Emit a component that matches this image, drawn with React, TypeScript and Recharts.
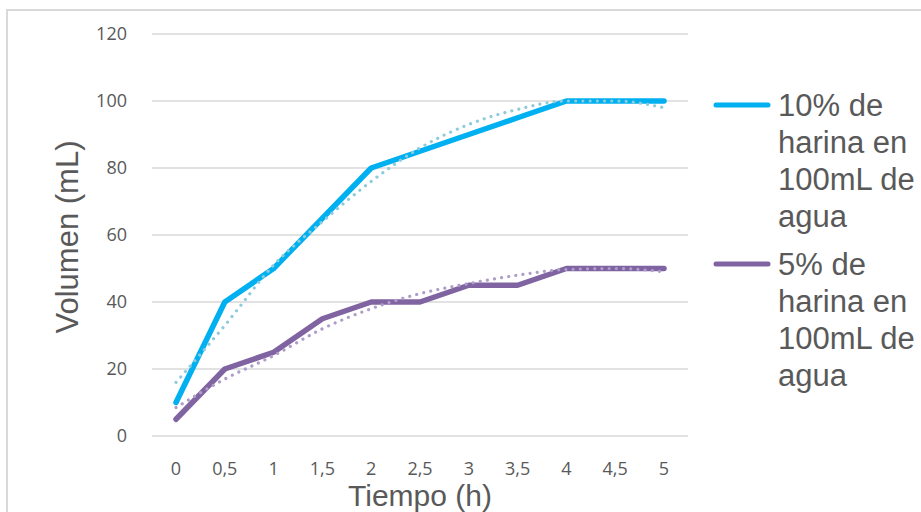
import React from 'react';
import { LineChart, Line, XAxis, YAxis, CartesianGrid, Legend } from 'recharts';

// time labels (h)
const tiempos = ['0', '0,5', '1', '1,5', '2', '2,5', '3', '3,5', '4', '4,5', '5'];
// measured volumes (mL)
const harina10 = [10, 40, 50, 65, 80, 85, 90, 95, 100, 100, 100];
const harina5 = [5, 20, 25, 35, 40, 40, 45, 45, 50, 50, 50];
// dotted trend lines
const tendencia10 = [16, 33, 51, 64, 76, 86, 93, 97.5, 100, 100, 98];
const tendencia5 = [8.5, 17, 24, 32, 38, 42.5, 45.5, 48, 49.7, 50, 49];
const yTicks = [0, 20, 40, 60, 80, 100, 120];

const data = tiempos.map((t, i) => ({
  t,
  a: harina10[i],
  b: harina5[i],
  ta: tendencia10[i],
  tb: tendencia5[i],
}));

const GREY = '#595959';

const LegendBox = (props: any) => {
  const items = (props.payload || []).filter((p: any) => p.type !== 'none');
  return (
    <div>
      {items.map((p: any, i: number) => (
        <div key={i} style={{ display: 'flex', alignItems: 'flex-start', marginTop: i === 0 ? 0 : 10.5 }}>
          <svg width={62} height={30} style={{ flexShrink: 0 }}>
            <line x1={3} y1={18} x2={55} y2={18} stroke={p.color} strokeWidth={5} strokeLinecap="round" />
          </svg>
          <div
            style={{
              width: 143,
              marginLeft: 3,
              fontFamily: '"Liberation Sans", Arial, sans-serif',
              fontSize: 31,
              lineHeight: '37px',
              color: GREY,
              textAlign: 'left',
            }}
          >
            {p.value}
          </div>
        </div>
      ))}
    </div>
  );
};

export default function App() {
  return (
    <div style={{ position: 'fixed', left: 0, top: 0, width: 921, height: 512, overflow: 'hidden', background: '#fff' }}>
      <div
        style={{
          position: 'absolute',
          left: 6,
          top: 9,
          width: 940,
          height: 540,
          borderLeft: '2px solid #d9d9d9',
          borderTop: '2px solid #d9d9d9',
        }}
      />
      <div style={{ position: 'absolute', left: 0, top: 0 }}>
        <LineChart width={921} height={512} data={data} margin={{ top: 34, right: 233, bottom: 0, left: 0 }}>
          <CartesianGrid horizontal vertical={false} stroke="#d9d9d9" strokeWidth={1.5} />
          <XAxis
            dataKey="t"
            height={76}
            axisLine={false}
            tickLine={false}
            tickSize={0}
            tickMargin={26}
            padding={{ left: 24, right: 24 }}
            interval={0}
            tick={{ fill: GREY, fontSize: 18, fontFamily: '"Open Sans", sans-serif' }}
            label={(p: any) => (
              <text
                x={420}
                y={506}
                textAnchor="middle"
                fill={GREY}
                fontSize={30}
                fontFamily='"Liberation Sans", Arial, sans-serif'
              >
                Tiempo (h)
              </text>
            )}
          />
          <YAxis
            width={152}
            domain={[0, 120]}
            ticks={yTicks}
            axisLine={false}
            tickLine={false}
            tickSize={0}
            tickMargin={25}
            tick={{ fill: GREY, fontSize: 18, fontFamily: '"Open Sans", sans-serif' }}
            label={(p: any) => (
              <text
                x={78}
                y={237}
                transform="rotate(-90, 78, 237)"
                textAnchor="middle"
                fill={GREY}
                fontSize={31}
                fontFamily='"Liberation Sans", Arial, sans-serif'
              >
                Volumen (mL)
              </text>
            )}
          />
          <Legend
            layout="horizontal"
            verticalAlign="middle"
            align="center"
            content={LegendBox}
            wrapperStyle={{ left: 713, top: 87, width: 208, height: 'auto' }}
          />
          <Line
            dataKey="a"
            name="10% de harina en 100mL de agua"
            stroke="#00B0F0"
            strokeWidth={5.5}
            strokeLinecap="round"
            strokeLinejoin="round"
            dot={false}
            activeDot={false}
            isAnimationActive={false}
          />
          <Line
            dataKey="b"
            name="5% de harina en 100mL de agua"
            stroke="#8064A2"
            strokeWidth={5.5}
            strokeLinecap="round"
            strokeLinejoin="round"
            dot={false}
            activeDot={false}
            isAnimationActive={false}
          />
          <Line
            dataKey="ta"
            type="monotone"
            legendType="none"
            stroke="#8DCBDC"
            strokeWidth={3.2}
            strokeDasharray="0.01 7.2"
            strokeLinecap="round"
            dot={false}
            activeDot={false}
            isAnimationActive={false}
          />
          <Line
            dataKey="tb"
            type="monotone"
            legendType="none"
            stroke="#AE9DC8"
            strokeWidth={3.2}
            strokeDasharray="0.01 7.2"
            strokeLinecap="round"
            dot={false}
            activeDot={false}
            isAnimationActive={false}
          />
        </LineChart>
      </div>
    </div>
  );
}
